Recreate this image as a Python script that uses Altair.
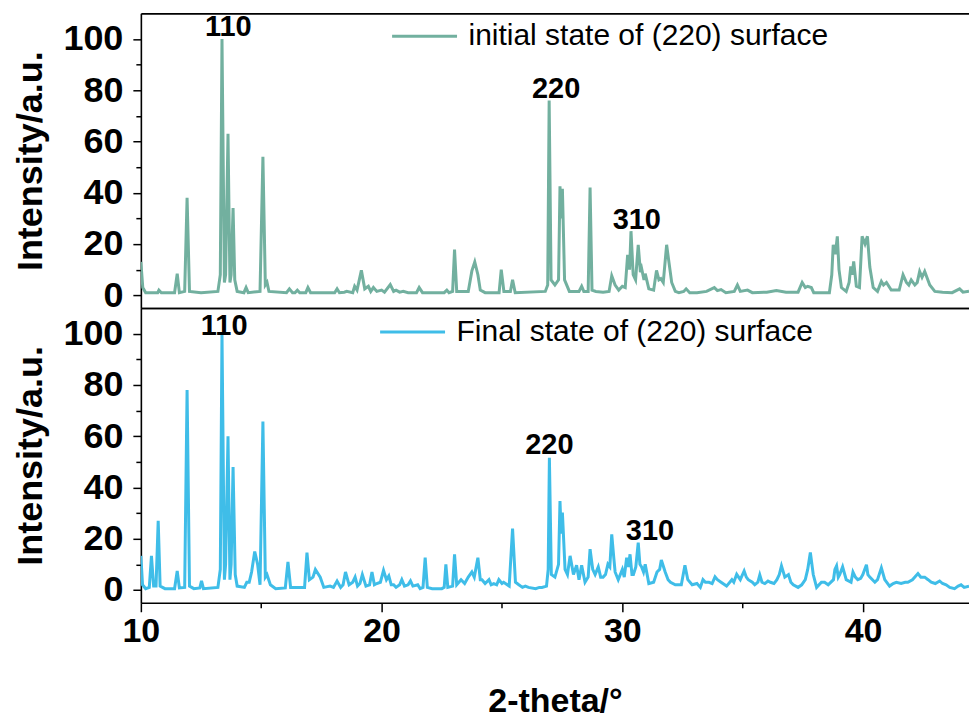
import altair as alt
import pandas as pd

# ---------------- data ----------------
top_name = "initial state of (220) surface"
bot_name = "Final state of (220) surface"

top_theta = [10.0, 10.08, 10.2, 10.7, 10.75, 10.85, 11.4, 11.51, 11.6, 11.82, 11.92, 12.02, 12.5,
             13.2, 13.3, 13.37, 13.47, 13.52, 13.62, 13.7, 13.75, 13.83, 13.9, 14.0, 14.28, 14.37,
             14.46, 14.95, 15.07, 15.17, 15.24, 15.32, 16.05, 16.17, 16.3, 16.4, 16.5, 16.6, 16.85,
             16.94, 17.05, 18.05, 18.15, 18.25, 18.45, 18.55, 18.8, 18.88, 18.98, 19.16, 19.3, 19.45,
             19.55, 19.66, 19.8, 20.0, 20.12, 20.36, 20.5, 20.6, 20.75, 20.9, 21.1, 21.45, 21.56,
             21.7, 22.6, 22.71, 22.8, 22.95, 23.03, 23.12, 23.6, 23.75, 23.87, 24.0, 24.1, 24.3,
             24.88, 24.97, 25.08, 25.35, 25.44, 25.55, 26.8, 26.9, 26.96, 27.04, 27.2, 27.35, 27.41,
             27.46, 27.51, 27.6, 27.8, 28.2, 28.31, 28.4, 28.58, 28.66, 28.74, 28.9, 29.2, 29.45,
             29.56, 29.7, 29.85, 30.0, 30.12, 30.22, 30.3, 30.36, 30.45, 30.55, 30.66, 30.75, 30.8,
             30.9, 30.95, 31.1, 31.3, 31.42, 31.52, 31.6, 31.7, 31.84, 31.92, 32.05, 32.2, 32.35,
             32.55, 32.65, 32.8, 33.1, 33.5, 33.82, 33.95, 34.1, 34.3, 34.65, 34.78, 34.9, 35.2,
             35.4, 36.0, 36.4, 36.8, 37.3, 37.47, 37.6, 37.7, 37.85, 37.95, 38.6, 38.7, 38.76,
             38.85, 38.93, 39.0, 39.1, 39.3, 39.42, 39.49, 39.55, 39.61, 39.72, 39.85, 39.96, 40.08,
             40.18, 40.28, 40.42, 40.6, 40.76, 40.85, 40.97, 41.17, 41.5, 41.66, 41.8, 41.9, 42.0,
             42.15, 42.25, 42.35, 42.45, 42.56, 42.77, 42.98, 43.3, 43.7, 44.01, 44.15, 44.4]
top_int = [13, 3, 1, 1, 2, 1, 1, 8.4, 1, 1.5, 38, 1.5, 1,
           1.5, 8, 100, 5, 8, 63, 5, 8, 34, 6, 1.5, 1, 3,
           1, 1.5, 54, 4, 5, 1.5, 1, 2.5, 1, 1, 2, 1, 1,
           3, 1, 1, 2.5, 1, 1.2, 1.5, 1, 3.5, 2, 9.7, 2.5, 3.5,
           1.5, 3, 1.5, 2, 1.2, 4.2, 1.5, 2, 1.2, 1.5, 1, 1, 3,
           1, 1, 2, 1, 1.5, 17.8, 1.5, 1.5, 9.5, 13, 8, 2, 1,
           1, 10, 1.5, 1.5, 6, 1, 1.5, 4, 76, 6, 4, 6, 42.5,
           30, 41.5, 6, 1.5, 1.5, 3.5, 1.5, 1.5, 42, 2, 1.5, 1.2, 1.5,
           7.6, 4, 2, 3.5, 3, 15.8, 10, 25, 8, 6, 19.7, 9, 10.5,
           6, 8.4, 2.5, 2, 9.7, 6, 6.5, 5, 19.7, 14, 5, 1.5, 1,
           1.5, 2.5, 1, 1, 1.5, 3, 1.8, 2.2, 1, 1.5, 4, 1.5, 2,
           1, 1.2, 1.8, 1.2, 1.2, 5, 3, 3.5, 3, 1, 1, 8, 19.7,
           16, 23, 10, 3, 1.5, 5, 11.3, 8, 13.2, 3.5, 3, 23, 20,
           23, 11, 3, 1.5, 5.4, 4, 5, 2, 2, 8, 5, 4, 6,
           4, 5, 9.3, 7, 9.3, 4, 1.5, 1.2, 1, 2.5, 1.2, 1.6]

bot_theta = [10.0, 10.07, 10.2, 10.35, 10.44, 10.53, 10.63, 10.72, 10.8, 11.0, 11.4, 11.51, 11.6,
             11.82, 11.92, 12.02, 12.2, 12.45, 12.52, 12.6, 13.2, 13.3, 13.37, 13.47, 13.52, 13.62,
             13.7, 13.75, 13.83, 13.92, 14.0, 14.3, 14.4, 14.5, 14.6, 14.73, 14.85, 14.95, 15.07,
             15.17, 15.24, 15.38, 15.6, 16.0, 16.11, 16.22, 16.8, 16.9, 17.0, 17.15, 17.25, 17.45,
             17.6, 17.86, 18.0, 18.15, 18.3, 18.4, 18.5, 18.65, 18.8, 18.9, 19.0, 19.1, 19.2, 19.35,
             19.5, 19.6, 19.7, 19.8, 19.95, 20.08, 20.2, 20.3, 20.4, 20.5, 20.6, 20.75, 20.84,
             20.95, 21.1, 21.2, 21.3, 21.5, 21.6, 21.72, 21.81, 21.9, 22.1, 22.5, 22.6, 22.67,
             22.75, 22.95, 23.03, 23.12, 23.3, 23.45, 23.6, 23.75, 23.85, 24.0, 24.1, 24.17, 24.3,
             24.46, 24.55, 24.66, 24.78, 24.87, 25.0, 25.07, 25.3, 25.44, 25.56, 25.7, 25.85,
             25.97, 26.1, 26.4, 26.55, 26.66, 26.85, 26.92, 26.97, 27.05, 27.2, 27.35, 27.41,
             27.46, 27.51, 27.62, 27.72, 27.83, 27.97, 28.1, 28.2, 28.31, 28.45, 28.58, 28.66,
             28.77, 28.87, 29.0, 29.1, 29.2, 29.3, 29.4, 29.48, 29.56, 29.65, 29.7, 29.83, 30.0,
             30.08, 30.18, 30.25, 30.32, 30.4, 30.46, 30.56, 30.66, 30.73, 30.8, 30.88, 30.95,
             31.1, 31.3, 31.44, 31.55, 31.62, 31.78, 31.9, 32.0, 32.2, 32.45, 32.6, 32.72, 32.9,
             33.1, 33.24, 33.35, 33.45, 33.6, 33.73, 33.85, 33.95, 34.1, 34.33, 34.55, 34.63,
             34.75, 34.9, 35.06, 35.15, 35.23, 35.4, 35.5, 35.63, 35.71, 35.8, 35.92, 36.05, 36.15,
             36.3, 36.42, 36.52, 36.61, 36.75, 36.9, 37.0, 37.1, 37.3, 37.45, 37.6, 37.7, 37.81,
             37.93, 38.07, 38.27, 38.4, 38.55, 38.77, 38.83, 38.9, 38.97, 39.03, 39.15, 39.3, 39.5,
             39.58, 39.68, 39.78, 39.9, 39.99, 40.14, 40.2, 40.28, 40.49, 40.6, 40.76, 40.9, 41.1,
             41.25, 41.38, 41.58, 41.75, 41.86, 42.05, 42.28, 42.4, 42.56, 42.7, 42.83, 43.0,
             43.18, 43.3, 43.45, 43.6, 43.8, 43.95, 44.07, 44.2, 44.4]
bot_int = [13.3, 2, 0.5, 1, 13.3, 1.5, 1.5, 27, 1.5, 0.5, 0.5, 7.4, 0.8,
           1, 78, 1.5, 0.5, 0.8, 3.5, 0.5, 1, 8, 100, 4, 10, 60,
           4, 10, 48, 6, 1.5, 1, 3, 3, 7, 15, 10, 2, 65.7,
           5, 6, 2, 0.5, 0.8, 10.9, 1, 1, 14.6, 4, 5, 8, 5,
           1, 1.5, 1, 3.5, 1, 2, 7, 2, 3, 5, 1.5, 2.5, 6, 1.5,
           2, 7, 2, 2.5, 3, 7.6, 4, 5.5, 2, 2, 1, 2, 4,
           1.5, 2, 3.5, 1.5, 2, 0.5, 1, 12.6, 1, 0.5, 0.5, 1, 10,
           1, 1.5, 13.9, 2, 4, 2.5, 5, 7, 5, 12.6, 4, 4, 2.5,
           4, 2, 2.5, 2, 4, 2.5, 3, 1.5, 23.9, 3, 2, 1,
           1.5, 1, 0.5, 1, 1, 1.5, 8, 51.6, 6, 5, 10, 34.7,
           22, 30.2, 8, 6, 13.3, 6, 9.6, 4, 9.6, 3, 5, 15.9,
           8, 6, 9, 5, 5, 6, 10, 9, 21.7, 12, 7, 4, 8,
           5, 12.6, 9, 13.9, 6, 6, 9, 18.5, 10, 9, 7, 10,
           2.5, 3, 7, 8, 11.7, 7, 4, 3, 2, 2, 9.6, 4, 2,
           2.5, 1, 4, 3, 3, 2.5, 5.1, 4, 3, 1.5, 4, 3,
           6.1, 4, 7.4, 5, 4, 3, 2, 3, 5.8, 3, 2.5, 3.5, 3,
           2.5, 4, 6, 9.4, 5, 6, 3, 2, 1, 2, 4, 8, 14.6,
           6, 1, 3, 3, 2, 4, 8, 9.4, 5, 6, 9, 4, 3,
           7, 5, 4, 4.5, 6, 9.8, 6, 5, 3, 4, 8.6, 4, 1.5,
           2.5, 3, 2.5, 3, 3, 4, 6.4, 5, 5, 4, 3, 2.5,
           3.5, 2.5, 2, 1, 0.5, 1.5, 2, 1, 1.5]

peak_labels = ["110", "220", "310"]
top_peak_x = [13.63, 27.25, 30.6]
top_peak_y = [101, 77, 26]
bot_peak_x = [13.46, 26.97, 31.15]
bot_peak_y = [99.5, 53, 19.5]

TEAL = "#72b09f"
BLUE = "#3fbde8"
FONT = "Liberation Sans"

y_ticks = [0, 10, 20, 30, 40, 50, 60, 70, 80, 90, 100]
x_ticks = [10, 15, 20, 25, 30, 35, 40]


def panel(theta, inten, name, color, lab_x, lab_y, leg_x, leg_y, bottom):
    df = pd.DataFrame({"theta": theta, "I": inten, "series": name})
    lab = pd.DataFrame({"x": lab_x, "y": lab_y, "label": peak_labels})
    xscale = alt.Scale(domain=[10, 44.4], nice=False, zero=False)
    yscale = alt.Scale(domain=[-5, 110], nice=False, zero=False)
    common = dict(grid=False, domainColor="black", domainWidth=1.6,
                  tickColor="black", tickWidth=1.5)
    if bottom:
        xaxis = alt.Axis(orient="bottom", values=x_ticks,
                         labelExpr="datum.value % 10 === 0 ? datum.label : ''",
                         tickSize={"condition": {"test": "datum.value % 10 === 0", "value": 9}, "value": 5},
                         labelFontSize=34, labelFont=FONT, labelFontWeight="bold",
                         labelColor="black", labelPadding=3, labelFlush=False,
                         labelOverlap=False, title="2-theta/°", titleFontSize=34,
                         titleFont=FONT, titleFontWeight="bold", titleColor="black",
                         titlePadding=36, **common)
    else:
        xaxis = alt.Axis(orient="bottom", labels=False, ticks=False, title=None,
                         minExtent=0, maxExtent=0, **common)
    top_axis = alt.Axis(orient="top", labels=False, ticks=False, title=None,
                        minExtent=0, maxExtent=0, **common)
    yaxis = alt.Axis(values=y_ticks,
                     labelExpr="datum.value % 20 === 0 ? datum.label : ''",
                     tickSize={"condition": {"test": "datum.value % 20 === 0", "value": 8}, "value": 5},
                     labelFontSize=36, labelFont=FONT, labelFontWeight="bold",
                     labelColor="black", labelPadding=10, labelFlush=False,
                     labelOverlap=False, title="Intensity/a.u.", titleFontSize=36,
                     titleFont=FONT, titleFontWeight="bold", titleColor="black",
                     titlePadding=11, minExtent=80, maxExtent=80, **common)
    line = alt.Chart(df).mark_line(strokeWidth=3, clip=True).encode(
        x=alt.X("theta:Q", scale=xscale, axis=xaxis),
        y=alt.Y("I:Q", scale=yscale, axis=yaxis),
        color=alt.Color("series:N", scale=alt.Scale(domain=[name], range=[color]),
                        legend=alt.Legend(orient="none", legendX=leg_x, legendY=leg_y,
                                          title=None, symbolType="stroke", symbolSize=4225,
                                          symbolStrokeWidth=3, clipHeight=30, labelFontSize=30,
                                          labelFont=FONT, labelColor="black",
                                          labelOffset=10, padding=0, labelLimit=0)),
    )
    text = alt.Chart(lab).mark_text(font=FONT, fontSize=29, fontWeight="bold",
                                    color="black", align="center",
                                    baseline="alphabetic").encode(
        x=alt.X("x:Q", scale=xscale, axis=top_axis),
        y=alt.Y("y:Q", scale=yscale, axis=yaxis),
        text="label:N",
    )
    return alt.layer(line, text).resolve_axis(x="independent").properties(width=829, height=295)


top = panel(top_theta, top_int, top_name, TEAL, top_peak_x, top_peak_y, 250, 8, False)
bot = panel(bot_theta, bot_int, bot_name, BLUE, bot_peak_x, bot_peak_y, 238, 9, True)

chart = alt.vconcat(top, bot, spacing=0, bounds="flush").resolve_scale(color="independent").properties(
    padding={"left": 5, "top": 5, "right": 0, "bottom": 5}
).configure_view(stroke=None)

chart.save("out.html", embed_options={"renderer": "svg", "actions": False})
